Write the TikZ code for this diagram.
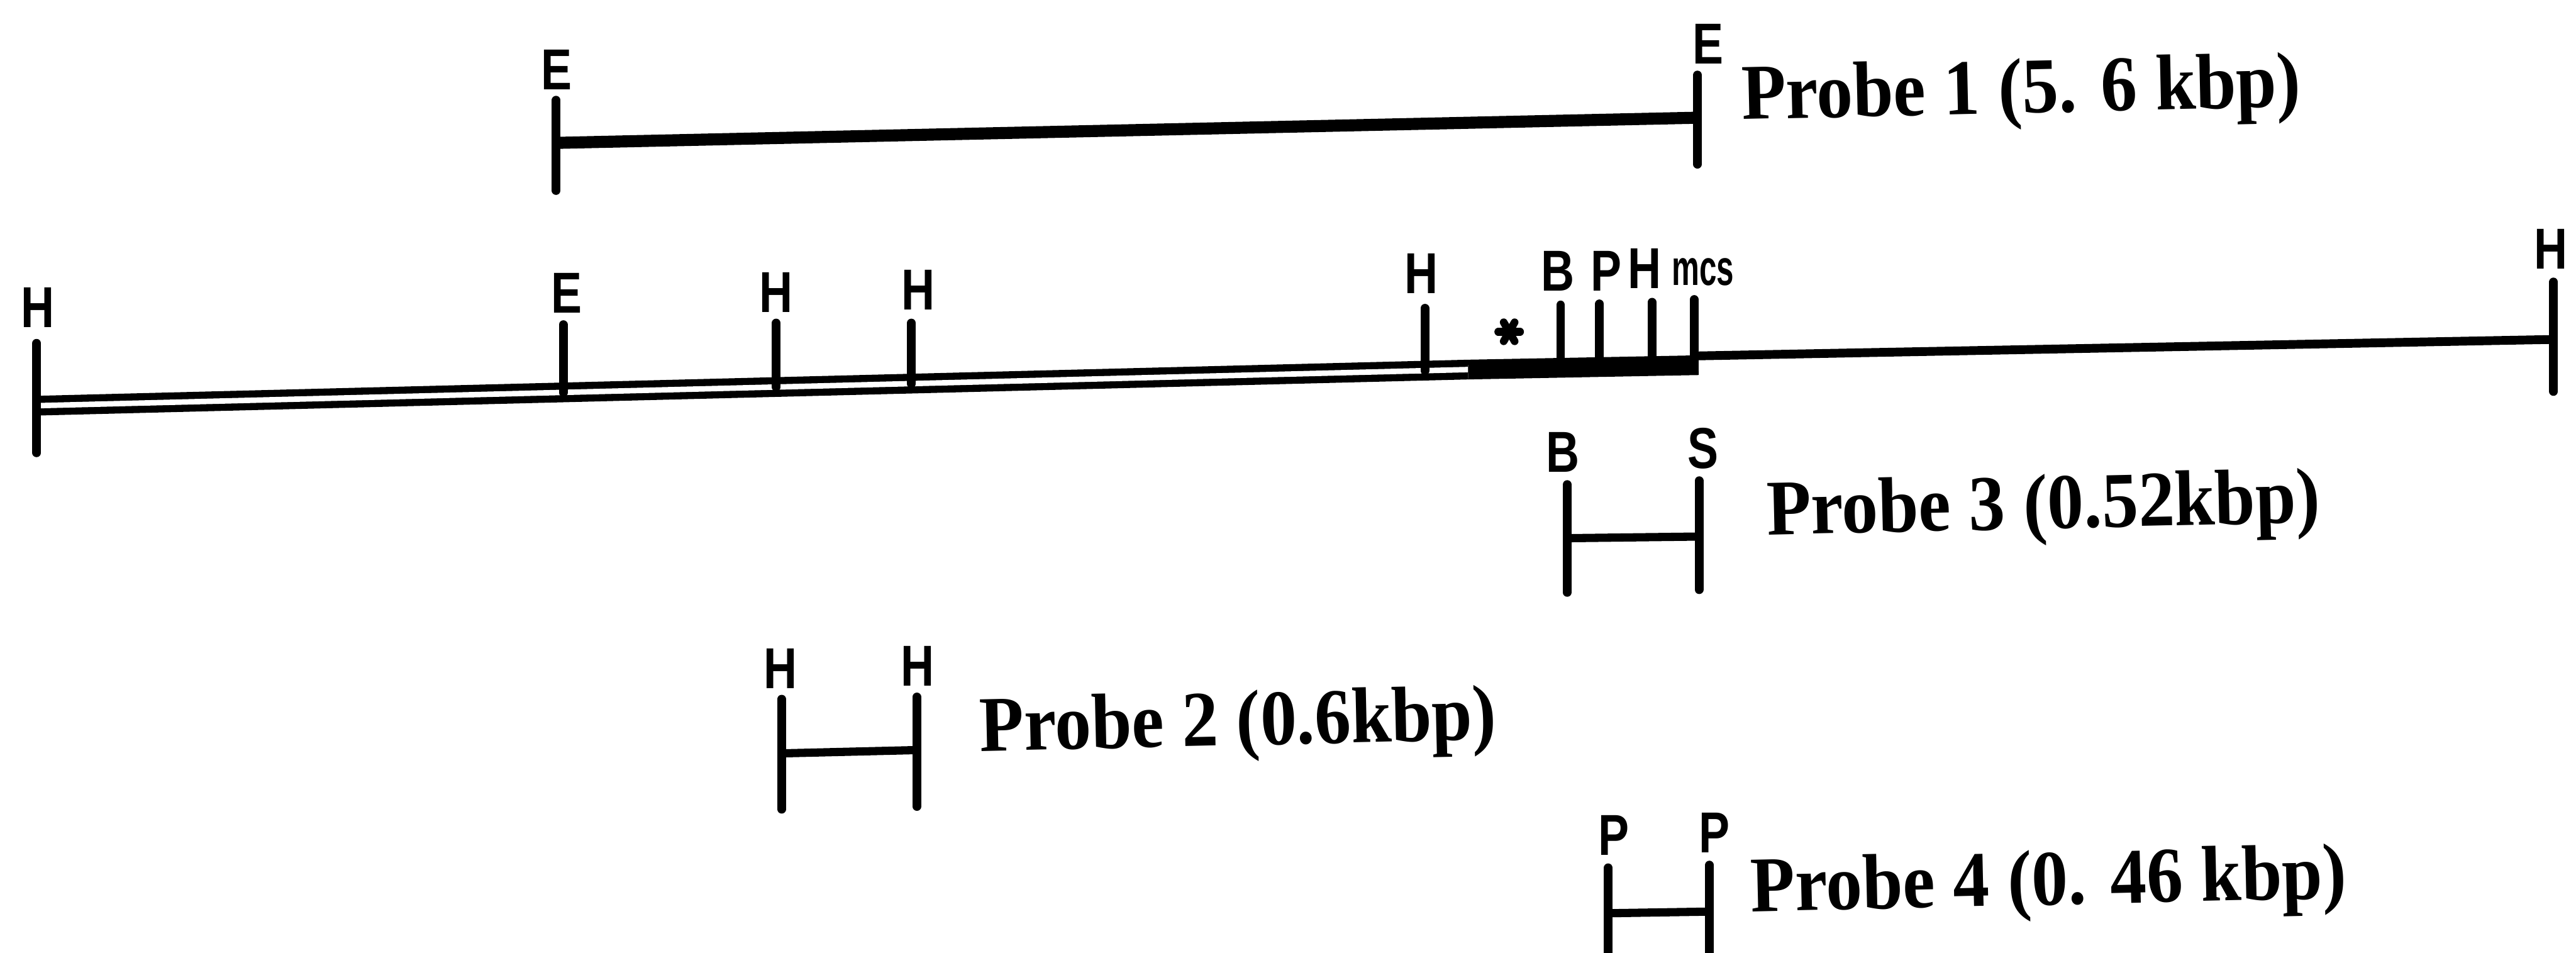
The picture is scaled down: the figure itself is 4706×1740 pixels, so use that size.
\documentclass[tikz,border=0pt]{standalone}
\usepackage{fontspec}
\newfontfamily\tagfont{Liberation Sans}[FakeStretch=0.8]
\newfontfamily\mcsfont{Liberation Sans}[FakeStretch=0.62]
\newfontfamily\probefont{Liberation Serif}[FakeStretch=0.92]
\usetikzlibrary{positioning}

\begin{document}
\begin{tikzpicture}[x=0.01cm, y=-0.01cm,
  tick/.style={line width=0.16cm, line cap=round},
  bar/.style={line width=0.15cm},
  site/.style={inner sep=0pt, font=\tagfont\bfseries\fontsize{30}{32}\selectfont},
  probe/.style={anchor=base west, inner sep=0pt, rotate=1.3,
    font=\probefont\bfseries\fontsize{41}{44}\selectfont}]
  \useasboundingbox (0,0) rectangle (4706,1740);

  % main map
  \coordinate (m0) at (67,741);   \coordinate (m1) at (2682,675);
  \coordinate (m2) at (3103,667); \coordinate (m3) at (3103,650);
  \coordinate (m4) at (4665,620);
  \draw[double, line width=0.13cm, double distance=0.1cm] (m0) -- (m1);
  \draw[line width=0.36cm] (m1) -- (m2);
  \draw[line width=0.16cm] (m3) -- (m4);

  \coordinate (h1t) at (67,627);   \coordinate (h1b) at (67,827);
  \coordinate (e1t) at (1029,593); \coordinate (e1b) at (1029,717);
  \coordinate (h2t) at (1418,590); \coordinate (h2b) at (1418,707);
  \coordinate (h3t) at (1665,590); \coordinate (h3b) at (1665,701);
  \coordinate (h4t) at (2603,563); \coordinate (h4b) at (2603,677);
  \coordinate (b1t) at (2851,557); \coordinate (b1b) at (2851,672);
  \coordinate (p1t) at (2922,555); \coordinate (p1b) at (2922,671);
  \coordinate (h5t) at (3018,552); \coordinate (h5b) at (3018,669);
  \coordinate (mct) at (3095,547); \coordinate (mcb) at (3095,667);
  \coordinate (h6t) at (4665,515); \coordinate (h6b) at (4665,715);
  \foreach \s in {h1,e1,h2,h3,h4,b1,p1,h5,mc,h6}
    \draw[tick] (\s t) -- (\s b);

  \node[site] (lh1) at (69,562) {H};
  \node[site] (le1) at (1035,535) {E};
  \node[site] (lh2) at (1418,534) {H};
  \node[site] (lh3) at (1678,530) {H};
  \node[site] (lh4) at (2597,500) {H};
  \node[site] (lb1) at (2846,495) {B};
  \node[site] (lp1) at (2934,495) {P};
  \node[site] (lh5) at (3004,490) {H};
  \node[site, font=\mcsfont\bfseries\fontsize{26}{28}\selectfont] (lmc) at (3111,497) {mcs};
  \node[site] (lh6) at (4660,455) {H};

  \coordinate (ast) at (2757,606);
  \foreach \a in {0,60,120}
    \draw[line width=0.14cm, line cap=round] (ast) ++(\a:20) -- ++(\a+180:40);

  % probe 1
  \coordinate (q1a) at (1016,183); \coordinate (q1b) at (1016,348);
  \coordinate (q1c) at (3101,137); \coordinate (q1d) at (3101,300);
  \coordinate (q1l) at (1016,261); \coordinate (q1r) at (3101,215);
  \draw[tick] (q1a) -- (q1b);
  \draw[tick] (q1c) -- (q1d);
  \draw[line width=0.22cm] (q1l) -- (q1r);
  \node[site] (le2) at (1017,127) {E};
  \node[site] (le3) at (3120,80) {E};
  \node[probe] (t1) at (3182,218) {Probe 1 (5. 6 kbp)};

  % probe 3
  \coordinate (q3a) at (2863,885); \coordinate (q3b) at (2863,1082);
  \coordinate (q3c) at (3104,878); \coordinate (q3d) at (3104,1077);
  \coordinate (q3l) at (2863,983); \coordinate (q3r) at (3104,980);
  \draw[tick] (q3a) -- (q3b);
  \draw[tick] (q3c) -- (q3d);
  \draw[bar] (q3l) -- (q3r);
  \node[site] (lb2) at (2855,826) {B};
  \node[site] (ls1) at (3111,819) {S};
  \node[probe] (t3) at (3228,977) {Probe 3 (0.52kbp)};

  % probe 2
  \coordinate (q2a) at (1428,1277); \coordinate (q2b) at (1428,1478);
  \coordinate (q2c) at (1675,1273); \coordinate (q2d) at (1675,1473);
  \coordinate (q2l) at (1428,1376); \coordinate (q2r) at (1675,1370);
  \draw[tick] (q2a) -- (q2b);
  \draw[tick] (q2c) -- (q2d);
  \draw[bar] (q2l) -- (q2r);
  \node[site] (lh7) at (1426,1221) {H};
  \node[site] (lh8) at (1676,1217) {H};
  \node[probe] (t2) at (1790,1372) {Probe 2 (0.6kbp)};

  % probe 4
  \coordinate (q4a) at (2938,1585); \coordinate (q4b) at (2938,1740);
  \coordinate (q4c) at (3123,1580); \coordinate (q4d) at (3123,1740);
  \coordinate (q4l) at (2938,1668); \coordinate (q4r) at (3123,1665);
  \draw[tick] (q4a) -- (q4b);
  \draw[tick] (q4c) -- (q4d);
  \draw[bar] (q4l) -- (q4r);
  \node[site] (lp2) at (2948,1526) {P};
  \node[site] (lp3) at (3132,1521) {P};
  \node[probe] (t4) at (3199,1665) {Probe 4 (0. 46 kbp)};
\end{tikzpicture}
\end{document}
